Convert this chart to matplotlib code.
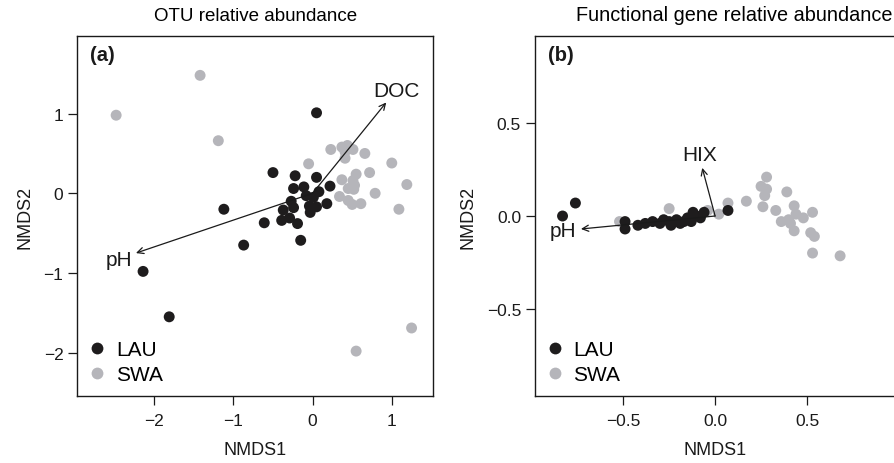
import matplotlib
matplotlib.use('Agg')
import matplotlib.pyplot as plt
from matplotlib.lines import Line2D

plt.rcParams['font.family'] = ['Liberation Sans', 'DejaVu Sans']

# panel (a): OTU relative abundance NMDS
otu_lau_x = [0.05, -0.50, -0.22, 0.05, 0.22, -0.24, -0.11, -0.08, 0.01, 0.08,
             -0.27, -0.24, -0.37, -0.04, 0.05, -0.03, 0.18, -0.39, -0.29, -0.19,
             -0.61, -0.15, -1.12, -0.87, -2.14, -1.81]
otu_lau_y = [1.01, 0.26, 0.22, 0.20, 0.09, 0.06, 0.08, -0.03, -0.05, 0.02,
             -0.10, -0.18, -0.21, -0.16, -0.17, -0.24, -0.13, -0.34, -0.31, -0.38,
             -0.37, -0.59, -0.20, -0.65, -0.98, -1.55]
otu_swa_x = [-1.42, -2.48, -1.19, -0.05, 0.23, 0.37, 0.44, 0.51, 0.41, 0.41,
             0.66, 1.00, 0.55, 0.72, 0.37, 0.51, 1.19, 0.45, 0.52, 0.79,
             0.34, 0.45, 0.50, 0.61, 1.09, 0.55, 1.25, 0.53]
otu_swa_y = [1.48, 0.98, 0.66, 0.37, 0.55, 0.58, 0.60, 0.55, 0.52, 0.44,
             0.50, 0.38, 0.24, 0.26, 0.17, 0.16, 0.11, 0.06, 0.05, 0.00,
             -0.04, -0.09, -0.14, -0.13, -0.20, -1.98, -1.69, 0.10]
otu_vec_names = ['DOC', 'pH']
otu_vec_x = [0.93, -2.23]
otu_vec_y = [1.14, -0.75]
otu_lab_x = [1.06, -2.45]
otu_lab_y = [1.29, -0.83]

# panel (b): functional gene relative abundance NMDS
fg_lau_x = [-0.83, -0.76, -0.49, -0.49, -0.42, -0.38, -0.34, -0.30, -0.28, -0.25,
            -0.24, -0.21, -0.19, -0.17, -0.15, -0.13, -0.12, -0.10, -0.08, -0.06, 0.07]
fg_lau_y = [0.00, 0.07, -0.03, -0.07, -0.05, -0.04, -0.03, -0.04, -0.02, -0.03,
            -0.05, -0.02, -0.04, -0.03, -0.01, -0.03, 0.02, 0.00, -0.01, 0.02, 0.03]
fg_swa_x = [-0.52, -0.25, -0.04, 0.02, 0.07, 0.17, 0.28, 0.25, 0.28, 0.27,
            0.39, 0.26, 0.33, 0.43, 0.53, 0.44, 0.48, 0.36, 0.41, 0.43,
            0.52, 0.54, 0.53, 0.68, 0.40]
fg_swa_y = [-0.03, 0.04, 0.03, 0.01, 0.07, 0.08, 0.21, 0.16, 0.145, 0.11,
            0.13, 0.05, 0.03, 0.055, 0.02, 0.01, -0.01, -0.03, -0.04, -0.08,
            -0.09, -0.11, -0.20, -0.215, -0.02]
fg_vec_names = ['HIX', 'pH']
fg_vec_x = [-0.07, -0.73]
fg_vec_y = [0.26, -0.07]
fg_lab_x = [-0.085, -0.83]
fg_lab_y = [0.33, -0.08]

col_lau = '#1e1c1d'
col_swa = '#b5b5ba'
msize = 62

fig = plt.figure(figsize=(8.94, 4.64), dpi=100)
ax1 = fig.add_axes([0.0865, 0.145, 0.3978, 0.7746])
ax2 = fig.add_axes([0.5984, 0.145, 0.4030, 0.7746])


def draw_panel(ax, lx, ly, sx, sy, vnames, vx, vy, labx, laby, tag):
    ax.scatter(lx, ly, s=msize, color=col_lau, edgecolors='none', zorder=3)
    ax.scatter(sx, sy, s=msize, color=col_swa, edgecolors='none', zorder=2)
    for name, x, y, tx, ty in zip(vnames, vx, vy, labx, laby):
        ax.annotate('', xy=(x, y), xytext=(0, 0),
                    arrowprops=dict(arrowstyle='->,head_length=0.45,head_width=0.22',
                                    color='#1a1a1a', lw=0.9, shrinkA=0, shrinkB=0),
                    zorder=4)
        ax.text(tx, ty, name, fontsize=15, ha='center', va='center', color='#1a1a1a')
    ax.text(0.035, 0.975, tag, transform=ax.transAxes, fontsize=14.5,
            fontweight='bold', ha='left', va='top', color='#1a1a1a')
    handles = [Line2D([], [], ls='none', marker='o', markersize=8.5,
                      markerfacecolor=col_lau, markeredgecolor='none'),
               Line2D([], [], ls='none', marker='o', markersize=8.5,
                      markerfacecolor=col_swa, markeredgecolor='none')]
    ax.legend(handles, ['LAU', 'SWA'], loc='lower left', frameon=False,
              fontsize=15, handletextpad=0.5, labelspacing=0.3,
              borderaxespad=0.15, handlelength=0.8)
    ax.set_xlabel('NMDS1', fontsize=13, labelpad=9, color='#1a1a1a')
    ax.set_ylabel('NMDS2', fontsize=13, labelpad=7, color='#1a1a1a')
    ax.tick_params(direction='out', length=6.5, width=0.9, labelsize=12.5,
                   colors='#1a1a1a')
    ax.tick_params(axis='x', pad=6)
    ax.tick_params(axis='y', pad=3.5)
    for sp in ax.spines.values():
        sp.set_linewidth(1.0)
        sp.set_color('#1a1a1a')


title_font = ['Liberation Sans Narrow', 'Liberation Sans', 'DejaVu Sans']

draw_panel(ax1, otu_lau_x, otu_lau_y, otu_swa_x, otu_swa_y,
           otu_vec_names, otu_vec_x, otu_vec_y, otu_lab_x, otu_lab_y, '(a)')
ax1.set_title('OTU relative abundance', fontsize=13.5, pad=12, family=title_font)
ax1.set_xlim(-2.97, 1.52)
ax1.set_ylim(-2.54, 1.97)
ax1.set_xticks([-2, -1, 0, 1])
ax1.set_yticks([-2, -1, 0, 1])

draw_panel(ax2, fg_lau_x, fg_lau_y, fg_swa_x, fg_swa_y,
           fg_vec_names, fg_vec_x, fg_vec_y, fg_lab_x, fg_lab_y, '(b)')
ax2.set_title('Functional gene relative abundance', fontsize=14.3, pad=12,
              family=title_font, x=0.552)
ax2.set_xlim(-0.98, 0.98)
ax2.set_ylim(-0.97, 0.97)
ax2.set_xticks([-0.5, 0.0, 0.5])
ax2.set_yticks([-0.5, 0.0, 0.5])
ax2.set_xticklabels(['\u22120.5', '0.0', '0.5'])
ax2.set_yticklabels(['\u22120.5', '0.0', '0.5'])

plt.savefig('out.png', dpi=100)
